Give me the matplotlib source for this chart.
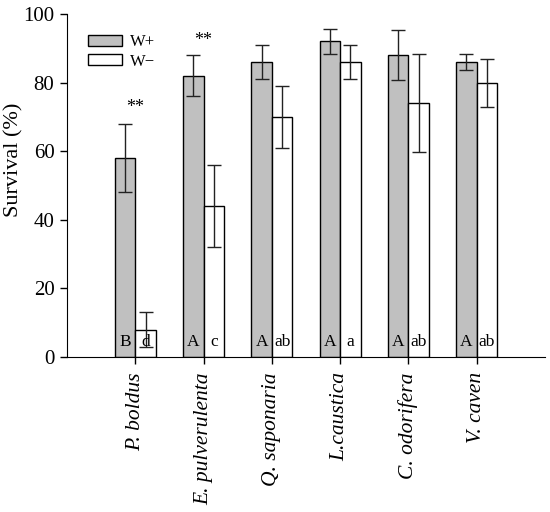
import numpy as np
import matplotlib
matplotlib.use("Agg")
import matplotlib.pyplot as plt

plt.rcParams["font.family"] = ["Liberation Serif", "DejaVu Serif"]

species = ["P. boldus", "E. pulverulenta", "Q. saponaria",
           "L.caustica", "C. odorifera", "V. caven"]
w_plus = [58, 82, 86, 92, 88, 86]
w_plus_err = [10, 6, 5, 3.7, 7.3, 2.4]
w_minus = [8, 44, 70, 86, 74, 80]
w_minus_err = [5, 12, 9, 5, 14.3, 7]
letters_plus = ["B", "A", "A", "A", "A", "A"]
letters_minus = ["d", "c", "ab", "a", "ab", "ab"]
# significance marks: (group index, height)
stars = [(0, 70.3), (1, 89.8)]

x = np.arange(len(species))
width = 0.3

fig = plt.figure(figsize=(5.5, 5.12), dpi=100)
ax = fig.add_axes([0.1218, 0.3027, 0.869, 0.670])

ax.bar(x - width / 2, w_plus, width, color="#c0c0c0", edgecolor="black",
       linewidth=1.0, label="W+", zorder=2)
ax.bar(x + width / 2, w_minus, width, color="white", edgecolor="black",
       linewidth=1.0, label="W\u2212", zorder=2)
ax.errorbar(x - width / 2, w_plus, yerr=w_plus_err, fmt="none",
            ecolor="#222222", elinewidth=1.0, capsize=5, capthick=1.0, zorder=3)
ax.errorbar(x + width / 2, w_minus, yerr=w_minus_err, fmt="none",
            ecolor="#222222", elinewidth=1.0, capsize=5, capthick=1.0, zorder=3)

for i in range(len(species)):
    ax.text(x[i] - width / 2, 4.3, letters_plus[i], ha="center", va="center",
            fontsize=12.5, zorder=4)
    ax.text(x[i] + width / 2, 4.3, letters_minus[i], ha="center", va="center",
            fontsize=12.5, zorder=4)

for i, h in stars:
    ax.text(x[i], h, "**", ha="center", va="bottom", fontsize=13)

ax.set_xlim(-1.0, 6.0)
ax.set_ylim(0, 100)
ax.set_yticks(np.arange(0, 101, 20))
ax.set_xticks(x)
ax.set_xticklabels(species, rotation=90, style="italic", fontsize=15.5)
ax.tick_params(axis="y", labelsize=15, direction="out", length=5, width=1,
               pad=4)
ax.tick_params(axis="x", direction="out", length=5, width=1, pad=6)
ax.set_ylabel("Survival (%)", fontsize=16)
ax.yaxis.set_label_coords(-0.09, 0.575)

ax.spines["top"].set_visible(False)
ax.spines["right"].set_visible(False)

ax.legend(loc="upper left", bbox_to_anchor=(0.02, 0.975), frameon=False,
          fontsize=12, handlelength=2.05, handleheight=0.6,
          handletextpad=0.45, labelspacing=0.2, borderaxespad=0.3)

fig.savefig("out.png", dpi=100)
